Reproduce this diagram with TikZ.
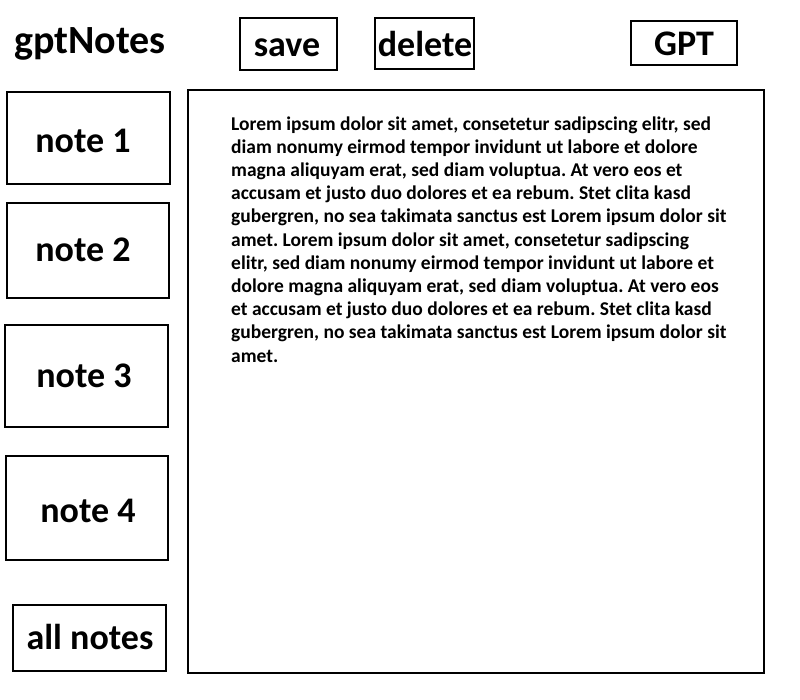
\documentclass[tikz,border=0pt]{standalone}
\usepackage{fontspec}
\setmainfont{Carlito}
\frenchspacing
\begin{document}
\begin{tikzpicture}[x=1pt,y=-1pt,
  box/.style={draw=black,line width=2.2pt},
  lbl/.style={font=\fontsize{36}{40}\selectfont\bfseries,inner sep=0pt,anchor=base},
  bodyline/.style={font=\fontsize{19.5}{23.2}\selectfont\bfseries,inner sep=0pt,anchor=base west}]
\useasboundingbox[fill=white] (0,0) rectangle (800,699);
% title
\node[lbl,font=\fontsize{40}{44}\selectfont\bfseries] (title) at (90,53) {gptNotes};
% top buttons
\draw[box] (240,18) rectangle (337,70);
\node[lbl] (save) at (287,56) {save};
\draw[box] (375,18) rectangle (474,69);
\node[lbl] (delete) at (425,56) {delete};
\draw[box] (631,21) rectangle (737,65);
\node[lbl] (gpt) at (684,55) {GPT};
% note boxes
\draw[box] (7,92) rectangle (170,184);
\node[lbl] (n1) at (83,152) {note 1};
\draw[box] (7,203) rectangle (169,298);
\node[lbl] (n2) at (83,261) {note 2};
\draw[box] (5,325) rectangle (168,427);
\node[lbl] (n3) at (84,387) {note 3};
\draw[box] (6,456) rectangle (168,560);
\node[lbl] (n4) at (88,522) {note 4};
\draw[box] (13,605) rectangle (166,671);
\node[lbl] (all) at (90,649) {all notes};
% main area
\draw[box,line width=2.6pt] (188,90) rectangle (764,673);
\foreach \t [count=\i] in {%
{Lorem ipsum dolor sit amet, consetetur sadipscing elitr, sed},
{diam nonumy eirmod tempor invidunt ut labore et dolore},
{magna aliquyam erat, sed diam voluptua. At vero eos et},
{accusam et justo duo dolores et ea rebum. Stet clita kasd},
{gubergren, no sea takimata sanctus est Lorem ipsum dolor sit},
{amet. Lorem ipsum dolor sit amet, consetetur sadipscing},
{elitr, sed diam nonumy eirmod tempor invidunt ut labore et},
{dolore magna aliquyam erat, sed diam voluptua. At vero eos},
{et accusam et justo duo dolores et ea rebum. Stet clita kasd},
{gubergren, no sea takimata sanctus est Lorem ipsum dolor sit},
{amet.}}
  \node[bodyline] (line\i) at (231,{130+(\i-1)*23.2}) {\t};
\end{tikzpicture}
\end{document}
